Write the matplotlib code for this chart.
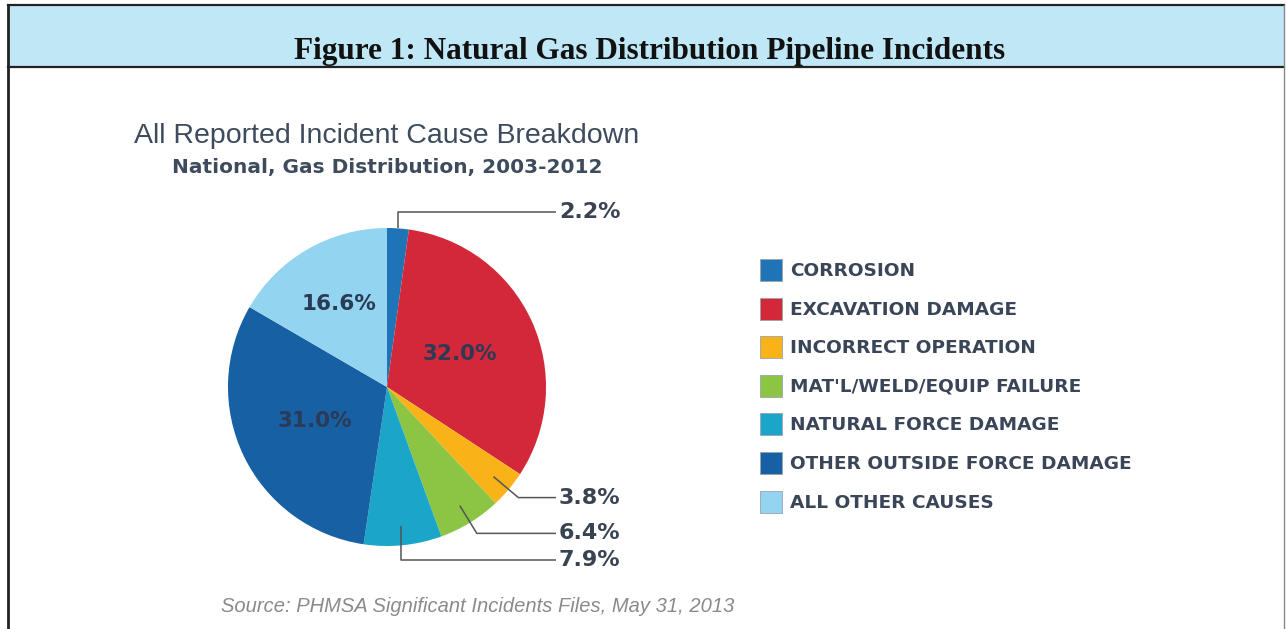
import numpy as np
import matplotlib
matplotlib.use("Agg")
import matplotlib.pyplot as plt
from matplotlib.patches import Rectangle

# ---- data ----
categories = ["CORROSION", "EXCAVATION DAMAGE", "INCORRECT OPERATION",
              "MAT'L/WELD/EQUIP FAILURE", "NATURAL FORCE DAMAGE",
              "OTHER OUTSIDE FORCE DAMAGE", "ALL OTHER CAUSES"]
shares = [2.2, 32.0, 3.8, 6.4, 7.9, 31.0, 16.6]
colors = ["#1f74b8", "#d3283a", "#f9b319", "#8cc443", "#1aa5c9", "#1760a3", "#93d4f0"]
inside_labels = [False, True, False, False, False, True, True]

header_title = "Figure 1: Natural Gas Distribution Pipeline Incidents"
chart_title = "All Reported Incident Cause Breakdown"
chart_subtitle = "National, Gas Distribution, 2003-2012"
source_note = "Source: PHMSA Significant Incidents Files, May 31, 2013"

W, H = 1286, 629
fig = plt.figure(figsize=(W / 100, H / 100), dpi=100)
ax = fig.add_axes([0, 0, 1, 1])

cx, cy, R = 387, 387, 159
text_dark = "#2b3a55"

# pie (y axis inverted -> counterclock=True draws clockwise on screen)
wedges, _ = ax.pie(shares, colors=colors, startangle=-90, counterclock=True,
                   radius=R, center=(cx, cy), normalize=True,
                   wedgeprops=dict(linewidth=0))
ax.set_xlim(0, W)
ax.set_ylim(H, 0)
ax.set_aspect("equal")
ax.axis("off")

total = sum(shares)
cum = np.cumsum([0] + shares[:-1])
mid = (cum + np.array(shares) / 2) / total * 360.0  # degrees clockwise from top

def pt(angle_deg, r):
    a = np.deg2rad(angle_deg)
    return cx + r * np.sin(a), cy - r * np.cos(a)

# inside labels
inside_r = {1: 0.5, 5: 0.5, 6: 0.6}
for i, v in enumerate(shares):
    if inside_labels[i]:
        x, y = pt(mid[i], R * inside_r[i])
        ax.text(x, y, f"{v:.1f}%", ha="center", va="center", fontsize=15.5,
                fontweight="bold", color=text_dark, family="DejaVu Sans")

# outside labels with leader lines
line_end_x = 556
label_x = 559
lc = "#555555"
for i, v in enumerate(shares):
    if inside_labels[i]:
        continue
    if i == 0:
        ax0, ay0 = pt(mid[i], R * 1.0)
        ly = 212
        xs = [ax0, ax0, line_end_x]
        ys = [ay0, ly, ly]
    elif i == 4:
        ax0, ay0 = pt(mid[i], R * 0.88)
        ly = 560
        xs = [ax0, ax0, line_end_x]
        ys = [ay0, ly, ly]
    else:
        ax0, ay0 = pt(mid[i], R * 0.875)
        ex, ey = pt(mid[i], R * 1.08)
        ly = ey
        xs = [ax0, ex, line_end_x]
        ys = [ay0, ey, ly]
    ax.plot(xs, ys, color=lc, lw=1.1, solid_capstyle="butt")
    ax.text(label_x, ly, f"{v:.1f}%", ha="left", va="center", fontsize=16,
            fontweight="bold", color="#3a4352", family="DejaVu Sans")

# legend
leg_x, leg_y0, leg_dy, sq = 760, 270, 38.6, 22
for i, (c, lab) in enumerate(zip(colors, categories)):
    yy = leg_y0 + i * leg_dy
    ax.add_patch(Rectangle((leg_x, yy - sq / 2), sq, sq, facecolor=c,
                           edgecolor="#9aa3ad", lw=0.6))
    ax.text(790, yy + 1, lab, ha="left", va="center", fontsize=13.3,
            fontweight="bold", color="#3a4658", family="DejaVu Sans")

# header band and frame
ax.add_patch(Rectangle((8, 5), 1276, 62, facecolor="#c0e7f5", edgecolor="none", zorder=0))
ax.plot([8, 1284], [5, 5], color="#222222", lw=1.6)
ax.plot([8, 1284], [67, 67], color="#222222", lw=1.6)
ax.plot([8, 8], [5, H], color="#222222", lw=2.0)
ax.plot([1284, 1284], [5, H], color="#888888", lw=1.0)

ax.text(650, 52, header_title, ha="center", va="center", fontsize=22.5,
        fontweight="bold", family="Liberation Serif", color="#111111")

ax.text(387, 136, chart_title, ha="center", va="center", fontsize=20.5,
        family="Liberation Sans", color="#3d4b5c")
ax.text(387, 167, chart_subtitle, ha="center", va="center", fontsize=14.5,
        fontweight="bold", family="DejaVu Sans", color="#3d4b5c")
ax.text(478, 606, source_note, ha="center", va="center", fontsize=14.5,
        style="italic", family="Liberation Sans", color="#8a8a8a")

fig.savefig("out.png", dpi=100)
